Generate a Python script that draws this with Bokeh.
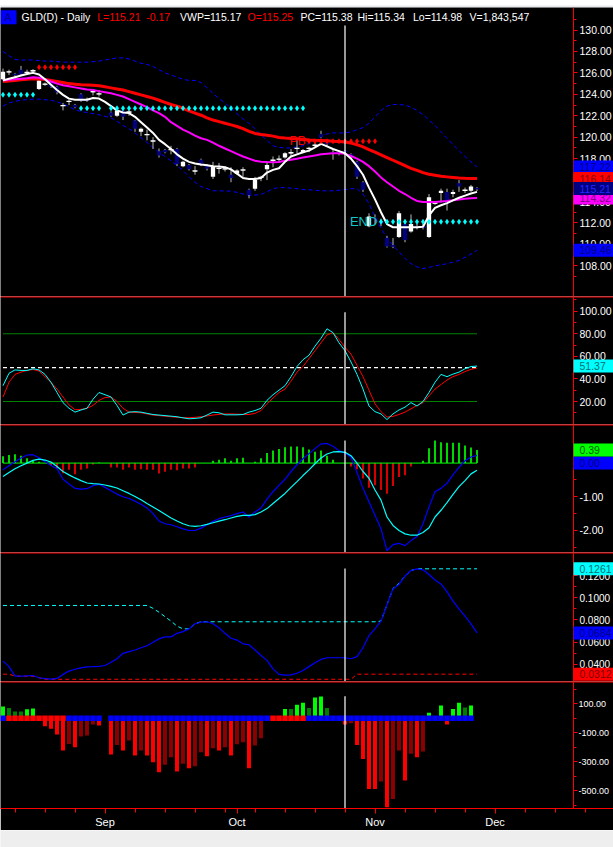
from bokeh.plotting import figure
from bokeh.models import Range1d, FixedTicker, NumeralTickFormatter, Label, Span, ColumnDataSource
from bokeh.layouts import column
from bokeh.embed import file_html
from bokeh.resources import INLINE
from bokeh.core.properties import value

# ---------------- data ----------------
BARS = list(range(80))          # trading-day slots, slot 17 = holiday (no bar)
MONTH_POS = [17, 39, 62, 82]
MONTH_LBL = ["Sep", "Oct", "Nov", "Dec"]
WEEK_POS = [2, 7, 12, 17, 22, 27, 32, 37, 42, 47, 52, 57, 62, 67, 72, 77, 82, 87, 92, 97]
CURSOR_BAR = 57

OPEN = [125.4,126.05,125.9,126.3,126.0,126.15,124.5,124.9,125.1,124.7,
        122.9,123.3,123.0,124.0,123.5,124.2,124.0,None,122.3,122.0,
        122.5,122.3,121.56,120.5,120.2,119.6,118.7,118.8,118.8,118.9,
        117.3,117.4,116.8,117.9,117.36,116.3,117.05,117.0,116.5,116.6,
        116.9,115.1,115.2,116.2,117.0,117.8,117.9,118.1,118.5,118.9,
        118.6,118.9,119.2,120.3,119.5,118.6,118.6,118.7,118.4,117.7,
        115.8,111.7,112.5,112.1,110.6,109.9,110.7,111.9,111.2,111.65,
        111.65,110.7,113.8,114.8,114.9,114.7,115.7,115.0,115.0,115.25]
CLOSE = [126.1,126.1,125.85,125.85,126.05,126.2,125.3,124.95,124.7,124.2,
         122.95,123.35,122.8,123.4,123.45,124.25,124.05,None,122.0,122.5,
         121.9,122.35,120.8,120.8,120.25,119.65,118.3,118.6,118.85,117.5,
         117.7,117.0,116.85,117.45,117.05,117.3,117.1,117.05,116.2,116.9,
         116.95,114.6,116.0,116.25,117.4,117.85,117.95,118.5,118.55,118.95,
         118.8,118.95,119.25,120.0,119.4,118.55,118.55,118.65,118.3,116.3,
         115.1,112.6,112.35,112.0,109.8,109.85,112.9,110.4,111.9,111.6,
         111.6,114.4,113.85,115.0,113.8,114.9,115.4,115.05,115.4,115.21]
HIGH = [126.4,126.3,126.0,126.65,126.3,126.35,125.4,125.1,125.2,124.8,
        123.2,123.5,123.1,124.1,123.7,124.5,124.4,None,122.4,122.6,
        122.6,122.6,121.6,120.9,120.7,120.0,118.95,118.9,119.2,119.0,
        117.8,117.5,117.3,118.0,117.5,117.7,117.6,117.2,117.2,117.0,
        117.2,115.2,116.3,116.4,117.65,118.2,118.3,118.6,118.9,119.7,
        118.9,119.1,119.5,120.6,119.6,118.9,118.8,118.8,118.5,117.8,
        115.9,112.9,112.8,112.4,110.8,110.6,113.1,112.3,112.8,111.9,
        111.9,114.7,114.0,115.2,115.2,115.1,116.0,115.3,115.55,115.34]
LOW = [125.3,125.8,125.65,125.8,125.85,126.0,124.4,124.8,124.6,124.0,
       122.5,123.0,122.7,123.3,123.3,123.9,123.8,None,121.9,121.9,
       121.6,122.0,120.5,120.1,119.7,118.9,118.1,118.5,118.4,117.3,
       117.2,116.9,116.5,117.3,116.9,116.1,116.6,116.8,115.8,116.5,
       116.3,114.3,115.0,115.9,116.0,117.2,117.7,118.0,118.2,118.5,
       118.5,118.6,119.0,119.9,119.1,117.9,118.3,118.4,118.0,116.1,
       114.9,111.6,111.9,111.7,109.7,109.65,110.6,110.2,111.1,111.4,
       111.4,110.6,113.7,113.9,113.16,114.4,114.9,114.8,114.9,114.98]

FAST = [125.3,125.45,125.6,125.75,125.9,126.0,125.85,125.4,124.9,124.4,
        123.95,123.6,123.5,123.5,123.5,123.65,123.6,123.3,122.9,122.5,
        122.3,122.25,121.9,121.4,120.9,120.4,119.75,119.35,118.9,118.4,
        118.0,117.7,117.55,117.45,117.38,117.3,117.27,117.2,117.0,116.6,
        116.2,116.1,116.1,116.2,116.7,116.95,117.1,117.7,118.2,118.4,
        118.6,118.75,119.05,119.38,119.15,118.9,118.7,118.5,118.0,117.3,
        116.5,115.3,114.2,113.0,111.9,111.6,111.6,111.6,111.6,111.6,
        111.65,112.7,113.4,113.65,113.85,114.1,114.35,114.55,114.75,114.9]
MID = [125.3,125.35,125.4,125.45,125.5,125.6,125.55,125.4,125.2,125.0,
       124.85,124.75,124.65,124.55,124.45,124.4,124.3,124.2,124.1,123.95,
       123.8,123.55,123.3,123.05,122.8,122.5,122.25,121.9,121.4,121.05,
       120.7,120.45,120.15,119.9,119.75,119.5,119.2,118.95,118.7,118.45,
       118.2,118.0,117.8,117.72,117.68,117.67,117.68,117.8,117.9,118.0,
       118.1,118.2,118.3,118.4,118.45,118.5,118.5,118.45,118.25,118.0,
       117.7,117.3,116.8,116.25,115.8,115.4,115.0,114.7,114.35,114.05,
       113.95,113.95,113.95,114.0,114.05,114.12,114.18,114.25,114.3,114.32]
SLOW = [125.2,125.25,125.3,125.35,125.4,125.45,125.42,125.38,125.3,125.2,
        125.1,125.0,124.95,124.9,124.88,124.85,124.8,124.7,124.6,124.5,
        124.4,124.25,124.1,123.95,123.8,123.65,123.45,123.25,123.05,122.9,
        122.7,122.45,122.25,122.05,121.8,121.6,121.45,121.3,121.15,121.0,
        120.8,120.55,120.35,120.25,120.18,120.1,119.98,119.92,119.88,119.85,
        119.8,119.75,119.72,119.7,119.68,119.62,119.6,119.55,119.45,119.3,
        119.1,118.85,118.6,118.35,118.1,117.85,117.6,117.35,117.1,116.9,
        116.7,116.55,116.45,116.35,116.3,116.25,116.2,116.17,116.15,116.14]
UPPER = [128.0,127.6,127.25,127.2,127.2,127.2,127.15,127.1,127.1,127.05,
         127.0,127.0,127.0,127.0,127.0,127.05,127.1,127.2,127.3,127.4,
         127.4,127.3,127.1,126.9,126.8,126.6,126.3,126.0,125.8,125.6,
         125.4,125.3,125.3,125.1,124.6,124.1,123.6,123.2,122.7,122.2,
         121.7,121.3,120.8,120.2,119.7,119.2,119.05,119.0,119.0,119.1,
         119.2,119.4,119.7,120.1,120.3,120.4,120.4,120.4,120.5,120.7,
         120.9,121.3,121.9,122.5,122.9,123.05,123.05,123.0,122.8,122.5,
         122.1,121.6,121.1,120.5,119.9,119.3,118.75,118.2,117.7,117.22]
LOWER = [122.9,123.2,123.35,123.45,123.5,123.55,123.55,123.5,123.45,123.3,
         123.1,122.85,122.55,122.4,122.3,122.2,122.1,121.95,121.8,121.5,
         121.1,120.8,120.4,119.95,119.5,119.05,118.6,118.2,117.8,117.35,
         116.9,116.3,115.8,115.4,115.2,115.0,115.0,114.98,114.97,114.85,
         114.7,114.57,114.6,114.66,114.9,115.2,115.3,115.3,115.25,115.2,
         115.12,115.1,115.05,115.0,115.0,115.0,115.05,115.1,115.2,115.2,
         114.7,113.8,112.6,111.5,110.6,109.9,109.3,108.7,108.2,107.9,
         107.75,107.85,108.0,108.1,108.2,108.35,108.5,108.8,109.1,109.46]

# dotted level markers: (first bar, last bar, level)
CYAN_MARKS = [(0, 5, 123.96), (13, 16, 122.7), (18, 50, 122.7), (63, 79, 112.12)]
RED_MARKS = [(6, 12, 126.53), (51, 62, 119.63)]
# last-value tags on the price scale, in drawing order
PRICE_TAGS = [(114.32, "#ff00ff", "#7a007a"), (117.22, "#0000ff", "#000080"),
              (116.14, "#ff0000", "#7a0000"), (115.21, "#000080", "#2828ff"),
              (109.46, "#0000ff", "#000080")]

STOCH_K = [34,45,48,47.5,47.5,49,48,44,37,28,
           19,14,10.6,12.5,14,22,28,26,24,16.5,
           8,10.6,11,10.6,9.5,8.5,8,7.5,7,6.5,
           5.5,4.7,5,5.6,8,10.6,10,8.2,8.2,8.2,
           8.5,10.6,12,14,21,26,30,34,42,51,
           57,61,69,76,84.4,81,72,65,55,44,
           31,16,11,9,4,9,12.5,15,19,16,
           20,28,37,44,42,44.3,46,49,51,51.37]
STOCH_D = [24,37,44,46,47.5,48.3,47,42,37,31,
           24,17,12.7,13,14,16.5,21,23.5,24,20,
           14,10.6,10.3,10,9,8,7.5,7,6.5,6,
           5.7,5.6,6,6.5,7.2,8,8.6,9,9,8.8,
           8.6,8.5,9.5,12,18,23,28,31,38,46,
           51,58,65,72,79,81,75,68,62,52,
           42,30,18,11,6.2,6.8,8.5,10.6,13.5,16.5,
           19,25,31,35,39,42,44,46.5,48.5,49.6]
STOCH_LEVELS = [80, 20]
STOCH_MID = 50

MACD = [-0.2,-0.08,0.04,0.15,0.24,0.25,0.16,0.05,-0.07,-0.17,
        -0.48,-0.62,-0.75,-0.77,-0.76,-0.67,-0.63,-0.72,-0.82,-0.92,
        -1.0,-1.05,-1.13,-1.22,-1.33,-1.5,-1.72,-1.8,-1.83,-1.89,
        -1.95,-2.0,-2.0,-1.93,-1.83,-1.73,-1.65,-1.6,-1.56,-1.5,
        -1.45,-1.6,-1.45,-1.33,-1.07,-0.85,-0.66,-0.48,-0.25,-0.05,
        0.13,0.28,0.43,0.57,0.58,0.5,0.37,0.3,0.17,-0.28,
        -0.75,-1.15,-1.55,-1.95,-2.6,-2.42,-2.38,-2.45,-2.3,-2.18,
        -1.8,-1.3,-0.85,-0.75,-0.6,-0.35,-0.13,0.07,0.18,0.23]
SIGNAL = [-0.4,-0.28,-0.17,-0.08,0.0,0.08,0.12,0.09,0.03,-0.1,
          -0.25,-0.35,-0.44,-0.52,-0.59,-0.61,-0.62,-0.65,-0.69,-0.74,
          -0.82,-0.9,-0.99,-1.09,-1.2,-1.3,-1.41,-1.52,-1.63,-1.72,
          -1.8,-1.86,-1.88,-1.86,-1.82,-1.77,-1.72,-1.68,-1.63,-1.58,
          -1.55,-1.55,-1.53,-1.45,-1.35,-1.2,-1.05,-0.9,-0.72,-0.55,
          -0.37,-0.2,-0.02,0.15,0.27,0.33,0.34,0.32,0.22,0.0,
          -0.25,-0.45,-0.8,-1.1,-1.6,-1.85,-2.0,-2.1,-2.14,-2.14,
          -2.06,-1.92,-1.6,-1.4,-1.17,-0.93,-0.7,-0.52,-0.32,-0.21]
HIST = [0.2,0.24,0.26,0.22,0.14,0.07,0.04,0.0,-0.08,-0.16,
        -0.3,-0.2,-0.33,-0.2,-0.16,-0.04,0.02,None,-0.13,-0.13,
        -0.2,-0.13,-0.2,-0.18,-0.2,-0.2,-0.31,-0.26,-0.2,-0.21,
        -0.16,-0.16,-0.13,0.0,0.0,0.07,0.1,0.14,0.07,0.14,
        0.16,0.0,0.04,0.14,0.3,0.37,0.42,0.47,0.49,0.49,
        0.47,0.4,0.34,0.37,0.22,0.1,0.0,0.0,-0.1,-0.18,
        -0.46,-0.73,-0.66,-0.8,-0.91,-0.68,-0.41,-0.36,-0.1,0.0,
        0.07,0.44,0.67,0.62,0.6,0.6,0.6,0.52,0.46,0.39]

VOLA = [0.043,0.038,0.0294,0.0294,0.0296,0.030,0.028,0.0272,0.0268,0.0274,
        0.031,0.034,0.0356,0.0368,0.0378,0.038,0.0383,0.039,0.042,0.0451,
        0.050,0.0515,0.053,0.055,0.0568,0.060,0.063,0.0648,0.0648,0.068,
        0.0695,0.072,0.0766,0.078,0.0784,0.0766,0.073,0.068,0.0636,0.0619,
        0.0585,0.0577,0.053,0.048,0.0436,0.036,0.031,0.0303,0.0305,0.032,
        0.0345,0.038,0.0415,0.0445,0.046,0.046,0.046,0.046,0.0451,0.047,
        0.055,0.066,0.072,0.079,0.0937,0.108,0.112,0.1196,0.1246,0.1261,
        0.1252,0.121,0.116,0.1125,0.1056,0.097,0.090,0.0834,0.0765,0.0684]
VOLA_HI = [0.0931,0.0931,0.0931,0.0931,0.0931,0.0931,0.0931,0.0931,0.0931,0.0931,
           0.0931,0.0931,0.0931,0.0931,0.0931,0.0931,0.0931,0.0931,0.0931,0.0931,
           0.0931,0.0931,0.0931,0.0931,0.0931,0.0905,0.087,0.083,0.079,0.0745,
           0.072,0.072,0.0766,0.0784,0.0784,0.0784,0.0784,0.0784,0.0784,0.0784,
           0.0784,0.0784,0.0784,0.0784,0.0784,0.0784,0.0784,0.0784,0.0784,0.0784,
           0.0784,0.0784,0.0784,0.0784,0.0784,0.0784,0.0784,0.0784,0.0784,0.0784,
           0.0784,0.0784,0.0784,0.079,0.0937,0.1084,0.1128,0.1196,0.1246,0.1261,
           0.1261,0.1261,0.1261,0.1261,0.1261,0.1261,0.1261,0.1261,0.1261,0.1261]
VOLA_LO = [0.0312,0.0312,0.0294,0.0294,0.0294,0.0294,0.028,0.0266,0.0266,0.0266,
           0.0266,0.0266,0.0266,0.0266,0.0266,0.0266,0.0266,0.0266,0.0266,0.0266,
           0.0266,0.0266,0.0266,0.0266,0.0266,0.0266,0.0266,0.0266,0.0266,0.0266,
           0.0266,0.0266,0.0266,0.0266,0.0266,0.0266,0.0266,0.0266,0.0266,0.0266,
           0.0266,0.0266,0.0266,0.0266,0.0266,0.0266,0.0266,0.0266,0.0266,0.0266,
           0.0266,0.0266,0.0266,0.0266,0.0266,0.0266,0.0266,0.0266,0.0266,0.0312,
           0.0312,0.0312,0.0312,0.0312,0.0312,0.0312,0.0312,0.0312,0.0312,0.0312,
           0.0312,0.0312,0.0312,0.0312,0.0312,0.0312,0.0312,0.0312,0.0312,0.0312]

FLOW = [82,72,47,47,63,68,0,-55,-73,-112,
        -223,-177,-200,-126,-119,-43,-50,None,-251,-184,
        -223,-154,-258,-223,-258,-304,-373,-322,-269,-368,
        -315,-345,-331,-235,-262,-207,-223,-200,-258,-179,
        -165,-345,-189,-138,0,0,0,65,65,93,
        107,72,144,151,72,0,0,-43,-35,-184,
        -281,-489,-489,-438,-615,-558,-223,-431,-246,-269,
        -230,38,0,89,-43,65,107,75,89,None]
FLOW_SHADE = ("GgggGG-RRR" "RrRrrrR-Rr" "RrRrRRRrrR" "rRrrRrRrRr"
              "rRrr---GgG" "GgGGg--RrR" "RRRrRrrRrR" "rG-GRGGgG-")
FLOW_STATE = ("BRRRRRRRRR" "RBBBBBB-BB" "BBBBBBBBBB" "BBBBBBBBBB"
              "BBBBBRRRRR" "RBBBBBBBBB" "BBBBBBBBBB" "BBBBBBBBB-")

HEADER = [("GLD(D) - Daily", "#ffffff"), ("L=115.21", "#ff0000"), ("-0.17", "#ff0000"),
          ("VWP=115.17", "#ffffff"), ("O=115.25", "#ff0000"), ("PC=115.38", "#ffffff"),
          ("Hi=115.34", "#ffffff"), ("Lo=114.98", "#ffffff"), ("V=1,843,547", "#ffffff")]
HEADER_X = [21, 96.7, 145.7, 179.5, 247, 300, 357, 412.5, 469]

assert all(len(a) == 80 for a in [OPEN, CLOSE, HIGH, LOW, FAST, MID, SLOW, UPPER, LOWER,
                                  STOCH_K, STOCH_D, MACD, SIGNAL, HIST, VOLA, VOLA_HI,
                                  VOLA_LO, FLOW, FLOW_SHADE, FLOW_STATE])

# ---------------- layout / style ----------------
PAGE_W = 613
PX_PER_BAR = 6.0
X0 = -2.5 / PX_PER_BAR                       # left page edge, in bar units
XR = Range1d(X0, X0 + PAGE_W / PX_PER_BAR)
AXIS_X = X0 + 573 / PX_PER_BAR               # price-scale line position
TAG_W = 44
FONT = "Liberation Sans"


def panel(h, yr, xaxis=False, label_size="10.5px", standoff=2):
    p = figure(frame_width=PAGE_W, frame_height=h, x_range=XR, y_range=yr,
               x_axis_location=("below" if xaxis else None), y_axis_location="right",
               toolbar_location=None, output_backend="svg",
               background_fill_color="black", border_fill_color="black",
               outline_line_color=None, min_border_left=0, min_border_right=0,
               min_border_top=0, min_border_bottom=0)
    p.xgrid.visible = False
    p.ygrid.visible = False
    for ax in p.yaxis:
        ax.fixed_location = AXIS_X
        ax.axis_line_color = "red"
        ax.major_tick_line_color = "red"
        ax.minor_tick_line_color = "red"
        ax.major_tick_in = 0
        ax.major_tick_out = 4
        ax.minor_tick_in = 0
        ax.minor_tick_out = 3
        ax.major_label_text_color = "white"
        ax.major_label_text_font = FONT
        ax.major_label_text_font_size = label_size
        ax.major_label_standoff = standoff
    return p


def strip(h, color):
    s = figure(width=PAGE_W, height=h, toolbar_location=None, output_backend="svg",
               x_axis_location=None, y_axis_location=None,
               background_fill_color=color, border_fill_color=color, outline_line_color=None,
               min_border_left=0, min_border_right=0, min_border_top=0, min_border_bottom=0)
    s.xgrid.visible = False
    s.ygrid.visible = False
    return s


def tag(p, yval, txt, bg, fg):
    p.rect(x=[AXIS_X + TAG_W / 2 / PX_PER_BAR], y=[yval], width=TAG_W, height=13,
           width_units="screen", height_units="screen", fill_color=bg, line_color=None,
           level="overlay")
    p.text(x=[AXIS_X + 6 / PX_PER_BAR], y=[yval], text=[txt], text_color=fg,
           text_baseline="middle", text_align="left", text_font=value(FONT),
           text_font_size="10.5px", level="overlay")


def separator(p):
    p.add_layout(Span(location=p.y_range.end, dimension="width", line_color="red", line_width=2))


def cursor(p, top):
    p.segment(x0=[CURSOR_BAR], y0=[p.y_range.start], x1=[CURSOR_BAR], y1=[top],
              line_color="white", line_width=1.2)


top_strip = strip(7, "#e6e9ee")

# ---------------- panel 1: price ----------------
p1 = panel(289, Range1d(105.14, 132.1))
p1.yaxis.ticker = FixedTicker(ticks=[108, 110, 112, 114, 116, 118, 120, 122, 124, 126, 128, 130],
                              minor_ticks=[107, 109, 111, 113, 115, 117, 119, 121, 123, 125, 127, 129, 131])
p1.yaxis.formatter = NumeralTickFormatter(format="0.00")

p1.line(BARS, UPPER, line_color="#0000ff", line_width=1, line_dash="4 3")
p1.line(BARS, LOWER, line_color="#0000ff", line_width=1, line_dash="4 3")

cidx = [i for i in BARS if OPEN[i] is not None]
csrc = ColumnDataSource(dict(
    x=cidx,
    hi=[HIGH[i] for i in cidx], lo=[LOW[i] for i in cidx],
    top=[max(OPEN[i], CLOSE[i]) for i in cidx], bot=[min(OPEN[i], CLOSE[i]) for i in cidx],
    col=["#ffffff" if CLOSE[i] >= OPEN[i] else "#000080" for i in cidx]))
p1.segment(x0="x", y0="lo", x1="x", y1="hi", source=csrc, line_color="#b8b8b8", line_width=1)
p1.vbar(x="x", width=0.72, top="top", bottom="bot", source=csrc, fill_color="col", line_color=None)
didx = [i for i in cidx if abs(CLOSE[i] - OPEN[i]) < 0.12]
p1.scatter(didx, [CLOSE[i] for i in didx], marker="dash", size=5, line_width=1.3,
           line_color=["#ffffff" if CLOSE[i] >= OPEN[i] else "#000080" for i in didx])

p1.line(BARS, SLOW, line_color="#ff0000", line_width=3)
p1.line(BARS, MID, line_color="#ff00ff", line_width=2)
p1.line(BARS, FAST, line_color="#ffffff", line_width=2)

for a, b, lvl in CYAN_MARKS:
    xs = [i for i in BARS if a <= i <= b]
    p1.scatter(xs, [lvl] * len(xs), marker="diamond", size=6, fill_color="#00ffff", line_color=None)
for a, b, lvl in RED_MARKS:
    xs = [i for i in BARS if a <= i <= b]
    p1.scatter(xs, [lvl] * len(xs), marker="diamond", size=6, fill_color="#ff0000", line_color=None)

pb = RED_MARKS[1]
p1.text(x=[pb[0] - 0.55], y=[pb[2]], text=["PB"], text_color="#ff0000", text_align="right",
        text_baseline="middle", text_font=value(FONT), text_font_size="12px")
en = CYAN_MARKS[3]
p1.text(x=[en[0] - 0.6], y=[en[2]], text=["END"], text_color="#10c8c8", text_align="right",
        text_baseline="middle", text_font=value(FONT), text_font_size="13px")

cursor(p1, 130.42)
for v, bg, fg in PRICE_TAGS:
    tag(p1, v, f"{v:.2f}", bg, fg)

HEAD_Y = 289 - 9.7
p1.add_layout(Label(x=0, y=HEAD_Y, x_units="screen", y_units="screen", text="A",
                    text_color="#000080", text_font=FONT, text_font_size="10.5px",
                    text_baseline="middle", background_fill_color="#0000ff",
                    padding=dict(left=4, right=5, top=1, bottom=1)))
for (txt, col), hx in zip(HEADER, HEADER_X):
    p1.add_layout(Label(x=hx, y=HEAD_Y, x_units="screen", y_units="screen", text=txt,
                        text_color=col, text_font=FONT, text_font_size="10.5px",
                        text_baseline="middle"))

# ---------------- panel 2: stochastic ----------------
p2 = panel(128, Range1d(-0.37, 113.0))
p2.yaxis.ticker = FixedTicker(ticks=[20, 40, 60, 80, 100], minor_ticks=[10, 30, 50, 70, 90, 110])
p2.yaxis.formatter = NumeralTickFormatter(format="0.00")
separator(p2)
for lvl in STOCH_LEVELS:
    p2.segment(x0=[BARS[0]], y0=[lvl], x1=[BARS[-1]], y1=[lvl], line_color="#008000", line_width=1)
p2.segment(x0=[BARS[0]], y0=[STOCH_MID], x1=[BARS[-1]], y1=[STOCH_MID], line_color="white",
           line_width=1.2, line_dash="4 3")
p2.line(BARS, STOCH_D, line_color="#ff0000", line_width=1)
p2.line(BARS, STOCH_K, line_color="#00ffff", line_width=1)
cursor(p2, 99.1)
tag(p2, STOCH_K[-1], f"{STOCH_K[-1]:.2f}", "#00ffff", "#007070")

# ---------------- panel 3: MACD ----------------
p3 = panel(128, Range1d(-2.653, 1.145))
p3.yaxis.ticker = FixedTicker(ticks=[-2, -1, 0], minor_ticks=[-2.5, -1.5, -0.5, 0.5])
p3.yaxis.formatter = NumeralTickFormatter(format="0.00")
separator(p3)
hx = [i for i in BARS if HIST[i] is not None and HIST[i] != 0]
p3.vbar(x=hx, width=0.28, top=[max(HIST[i], 0) for i in hx], bottom=[min(HIST[i], 0) for i in hx],
        fill_color=["#00ff00" if HIST[i] > 0 else "#ff0000" for i in hx], line_color=None)
p3.segment(x0=[BARS[0]], y0=[0], x1=[BARS[-1]], y1=[0], line_color="#00ff00", line_width=1)
p3.line(BARS, MACD, line_color="#0000ff", line_width=1.2)
p3.line(BARS, SIGNAL, line_color="#00ffff", line_width=1.2)
cursor(p3, 0.67)
tag(p3, 0, "0.00", "#0000ff", "#000080")
tag(p3, HIST[-1], f"{HIST[-1]:.2f}", "#00ff00", "#006000")

# ---------------- panel 4: volatility ----------------
p4 = panel(129, Range1d(0.0246, 0.1408), label_size="10px")
p4.yaxis.ticker = FixedTicker(ticks=[0.04, 0.06, 0.08, 0.10, 0.12],
                              minor_ticks=[0.03, 0.05, 0.07, 0.09, 0.11, 0.13])
p4.yaxis.formatter = NumeralTickFormatter(format="0.0000")
separator(p4)
p4.line(BARS, VOLA_HI, line_color="#00ffff", line_width=1, line_dash="4 3")
p4.line(BARS, VOLA_LO, line_color="#ff0000", line_width=1, line_dash="4 3")
p4.line(BARS, VOLA, line_color="#0000ff", line_width=1.2)
cursor(p4, 0.1264)
tag(p4, VOLA_HI[-1], f"{VOLA_HI[-1]:.4f}", "#00ffff", "#007070")
tag(p4, VOLA[-1], f"{VOLA[-1]:.4f}", "#0000ff", "#000080")
tag(p4, VOLA_LO[-1], f"{VOLA_LO[-1]:.4f}", "#ff0000", "#7a0000")

# ---------------- panel 5: flow histogram ----------------
p5 = panel(127, Range1d(-624.2, 254.7), xaxis=True, label_size="9px", standoff=1)
p5.yaxis.ticker = FixedTicker(ticks=[100, -100, -300, -500], minor_ticks=[200, 0, -200, -400, -600])
p5.yaxis.formatter = NumeralTickFormatter(format="0.00")
separator(p5)
shade_col = {"G": "#00ff00", "g": "#008000", "R": "#ff0000", "r": "#8b0000"}
fx = [i for i in BARS if FLOW[i] is not None and FLOW[i] != 0]
p5.vbar(x=fx, width=0.66, top=[max(FLOW[i], 0) for i in fx], bottom=[min(FLOW[i], 0) for i in fx],
        fill_color=[shade_col[FLOW_SHADE[i]] for i in fx], line_color=None)
state_col = {"B": "#0000ff", "R": "#ff0000"}
sx = [i for i in BARS if FLOW_STATE[i] in state_col]
p5.scatter(sx, [0] * len(sx), marker="square", size=5.5, line_color=None,
           fill_color=[state_col[FLOW_STATE[i]] for i in sx])
cursor(p5, 153)

xa = p5.xaxis[0]
xa.ticker = FixedTicker(ticks=MONTH_POS, minor_ticks=WEEK_POS)
xa.major_label_overrides = {pos: lbl for pos, lbl in zip(MONTH_POS, MONTH_LBL)}
xa.axis_line_color = "red"
xa.major_tick_line_color = "red"
xa.minor_tick_line_color = "red"
xa.major_tick_in = 0
xa.major_tick_out = 5
xa.minor_tick_in = 0
xa.minor_tick_out = 4
xa.major_label_text_color = "white"
xa.major_label_text_font = FONT
xa.major_label_text_font_size = "11px"
xa.major_label_standoff = 2

bottom_strip = strip(19, "#eeeeee")

layout = column(top_strip, p1, p2, p3, p4, p5, bottom_strip, spacing=0)
open("out.html", "w").write(file_html(layout, INLINE))
